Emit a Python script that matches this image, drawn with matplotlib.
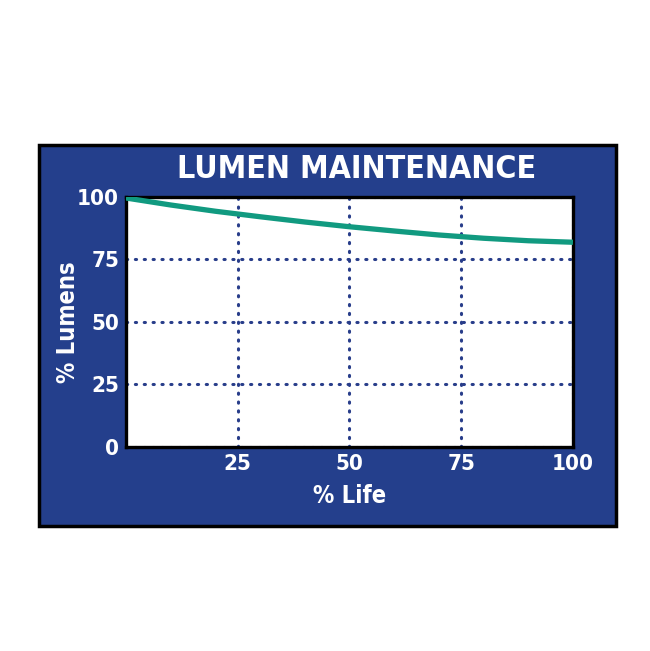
import matplotlib
matplotlib.use("Agg")
import matplotlib.pyplot as plt
from matplotlib.patches import Rectangle

# % Lumens at each % Life
life = [0, 10, 20, 30, 40, 50, 60, 70, 80, 90, 100]
lumens = [99.6, 96.8, 94.3, 92.1, 90.0, 88.1, 86.4, 84.8, 83.5, 82.5, 81.9]

xticks = [25, 50, 75, 100]
yticks = [0, 25, 50, 75, 100]

blue = "#243f8c"
teal = "#119a80"
dot_blue = "#283d8a"

plt.rcParams['font.family'] = ['DejaVu Sans']
plt.rcParams['font.stretch'] = 'condensed'

fig = plt.figure(figsize=(6.5, 6.51), dpi=100)
fig.patch.set_facecolor("white")

# blue panel behind the chart
fig.patches.append(Rectangle((0.06, 0.192), 0.888, 0.585, transform=fig.transFigure,
                             facecolor=blue, edgecolor="black", linewidth=2.5, zorder=-5))

ax = fig.add_axes([0.1938, 0.3134, 0.6877, 0.384])
ax.set_zorder(2)
ax.set_facecolor("white")
ax.plot(life, lumens, color=teal, linewidth=3.8, solid_capstyle="butt", zorder=3)

ax.set_xlim(0, 100)
ax.set_ylim(0, 100)
ax.set_xticks(xticks)
ax.set_yticks(yticks)
ax.tick_params(length=0, colors="white", labelsize=16, pad=5)
for lab in ax.get_xticklabels() + ax.get_yticklabels():
    lab.set_fontweight("bold")

ax.grid(True, color=dot_blue, linewidth=2.2, linestyle=(0, (0.4, 2.5)),
        dash_capstyle="round")
for sp in ax.spines.values():
    sp.set_linewidth(2.4)
    sp.set_color("black")

ax.set_xlabel("% Life", color="white", fontsize=17, fontweight="bold", labelpad=7)
ax.set_ylabel("% Lumens", color="white", fontsize=17, fontweight="bold", labelpad=-2)

fig.text(0.549, 0.740, "LUMEN MAINTENANCE", color="white", fontsize=23,
         fontweight="bold", ha="center", va="center")

fig.savefig("out.png", dpi=100, facecolor="white")
